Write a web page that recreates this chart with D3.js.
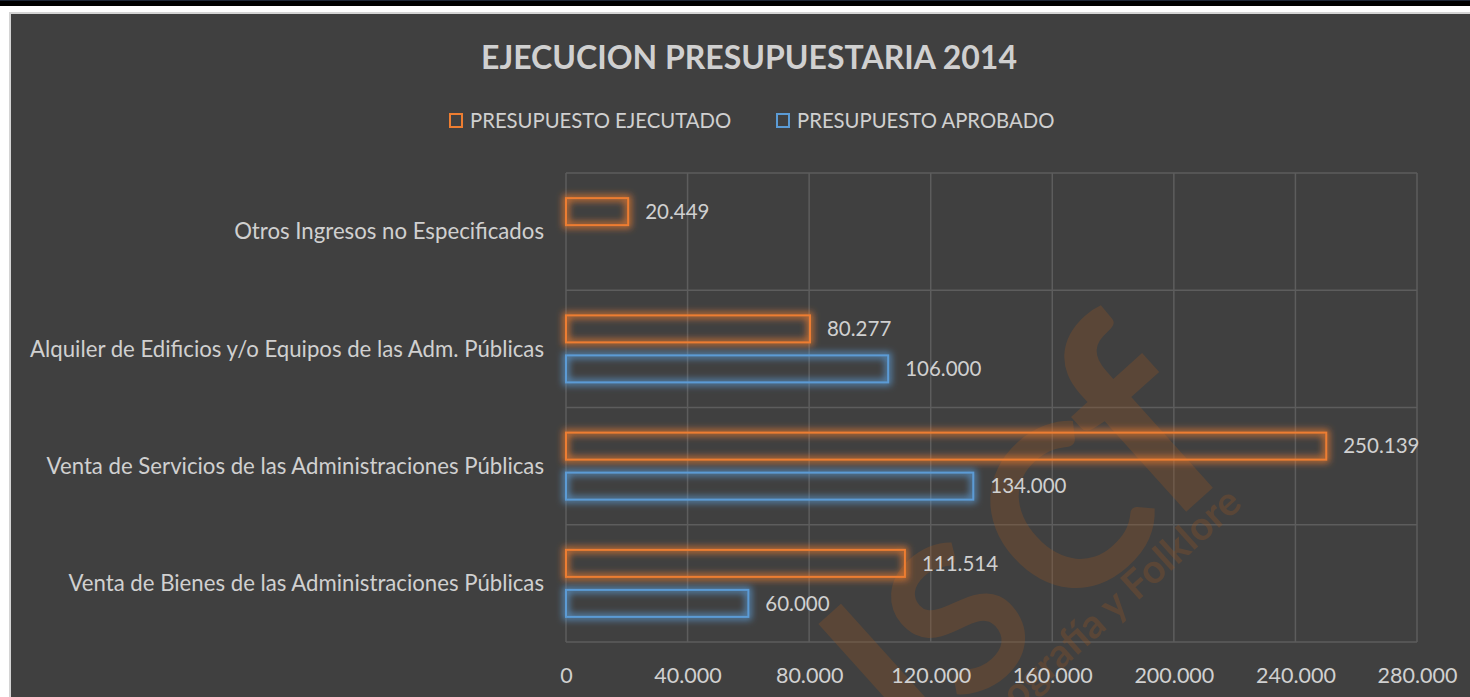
<!DOCTYPE html>
<html>
<head>
<meta charset="utf-8">
<script src="https://cdn.jsdelivr.net/npm/d3@7"></script>
<style>
  html, body { margin: 0; padding: 0; background: #ffffff; overflow: hidden; }
  svg { display: block; }
  text { font-family: Lato, "Open Sans", sans-serif; }
</style>
</head>
<body>
<div id="chart"></div>
<script>
// datos
const categorias = [
  "Otros Ingresos no Especificados",
  "Alquiler de Edificios y/o Equipos de las Adm. Públicas",
  "Venta de Servicios de las Administraciones Públicas",
  "Venta de Bienes de las Administraciones Públicas"
];
const series = ["PRESUPUESTO EJECUTADO", "PRESUPUESTO APROBADO"];
const ejecutado = [20449, 80277, 250139, 111514];
const aprobado = [null, 106000, 134000, 60000];
const ticksX = [0, 40000, 80000, 120000, 160000, 200000, 240000, 280000];

const colores = { "PRESUPUESTO EJECUTADO": "#ed7d31", "PRESUPUESTO APROBADO": "#5b9bd5" };
const textColor = "#d0d0d0";

const width = 1470, height = 697;
const plot = { left: 566, right: 1417, top: 173, bottom: 642 };

const loc = d3.formatLocale({ decimal: ",", thousands: ".", grouping: [3], currency: ["", ""] });
const fmt = loc.format(",d");

const svg = d3.select("#chart").append("svg")
  .attr("width", width)
  .attr("height", height);

// glow
const defs = svg.append("defs");
series.forEach((s, i) => {
  const f = defs.append("filter").attr("id", "glow" + i)
    .attr("x", "-20%").attr("y", "-80%").attr("width", "140%").attr("height", "260%");
  f.append("feMorphology").attr("in", "SourceGraphic").attr("operator", "dilate")
    .attr("radius", 1.5).attr("result", "d");
  f.append("feGaussianBlur").attr("in", "d").attr("stdDeviation", 3.5).attr("result", "b");
  f.append("feComponentTransfer").attr("in", "b").attr("result", "b2")
    .append("feFuncA").attr("type", "linear").attr("slope", 0.8);
  const m = f.append("feMerge");
  m.append("feMergeNode").attr("in", "b2");
  m.append("feMergeNode").attr("in", "SourceGraphic");
});

// marco
svg.append("rect").attr("width", width).attr("height", height).attr("fill", "#ffffff");
svg.append("rect").attr("width", width).attr("height", 6).attr("fill", "#000000");
svg.append("rect").attr("width", width).attr("height", 1).attr("fill", "#1e2636");
svg.append("rect").attr("x", 9).attr("y", 12).attr("width", width).attr("height", height)
  .attr("fill", "#d4d4d4");
svg.append("rect").attr("x", 11).attr("y", 14).attr("width", width).attr("height", height)
  .attr("fill", "#404040");

// escalas
const x = d3.scaleLinear().domain([0, 280000]).range([plot.left, plot.right]);
const y = d3.scaleBand().domain(categorias).range([plot.top, plot.bottom]);
const ySub = d3.scaleBand().domain(series).range([0, y.bandwidth()])
  .paddingInner(0.325).paddingOuter(0.628);

// grid
const grid = svg.append("g");
grid.selectAll("line.v").data(ticksX).join("line")
  .attr("x1", d => x(d)).attr("x2", d => x(d))
  .attr("y1", plot.top).attr("y2", plot.bottom)
  .attr("stroke", "#5d5d5d").attr("stroke-width", 1.5);
grid.selectAll("line.h").data([...categorias.map(c => y(c)), plot.bottom]).join("line")
  .attr("x1", plot.left).attr("x2", plot.right)
  .attr("y1", d => d).attr("y2", d => d)
  .attr("stroke", "#5d5d5d").attr("stroke-width", 1.5);

// marca de agua (logo)
const wm = svg.append("g")
  .attr("transform", "translate(1117,574) rotate(-42)")
  .attr("fill", "rgb(150,85,35)").attr("opacity", 0.3);
const letras = [["I", -240, 225], ["S", -148, 205], ["C", 0, 225], ["f", 117, 290]];
wm.selectAll("text.l").data(letras).join("text")
  .attr("x", d => d[1]).attr("y", 0)
  .attr("text-anchor", "middle")
  .attr("font-family", "'DejaVu Sans', sans-serif")
  .attr("font-weight", "bold")
  .attr("font-size", d => d[2])
  .text(d => d[0]);
wm.append("text")
  .attr("x", 140).attr("y", 34)
  .attr("text-anchor", "end")
  .attr("font-family", "'Liberation Sans Narrow', sans-serif")
  .attr("font-weight", "bold")
  .attr("font-size", 40)
  .text("Etnografía y Folklore");

// eje x
const xAxis = svg.append("g")
  .attr("transform", `translate(0,${plot.bottom})`)
  .call(d3.axisBottom(x).tickValues(ticksX).tickSize(0).tickPadding(26).tickFormat(fmt));
xAxis.select(".domain").remove();
xAxis.selectAll("text").attr("fill", textColor).attr("font-size", 21.5)
  .attr("font-family", "Lato, sans-serif");

// etiquetas de categoria
svg.append("g").selectAll("text").data(categorias).join("text")
  .attr("x", plot.left - 22)
  .attr("y", d => y(d) + y.bandwidth() / 2)
  .attr("dy", "0.35em")
  .attr("text-anchor", "end")
  .attr("font-size", 22.2)
  .attr("fill", textColor)
  .text(d => d);

// barras
const filas = [];
categorias.forEach((c, i) => {
  filas.push({ cat: c, serie: series[0], valor: ejecutado[i] });
  if (aprobado[i] != null) filas.push({ cat: c, serie: series[1], valor: aprobado[i] });
});

const barras = svg.append("g");
barras.selectAll("rect").data(filas).join("rect")
  .attr("x", x(0))
  .attr("y", d => y(d.cat) + ySub(d.serie))
  .attr("width", d => x(d.valor) - x(0))
  .attr("height", ySub.bandwidth())
  .attr("fill", "none")
  .attr("stroke", d => colores[d.serie])
  .attr("stroke-width", 2)
  .attr("filter", d => `url(#glow${series.indexOf(d.serie)})`);

barras.selectAll("text").data(filas).join("text")
  .attr("x", d => x(d.valor) + 17)
  .attr("y", d => y(d.cat) + ySub(d.serie) + ySub.bandwidth() / 2)
  .attr("dy", "0.35em")
  .attr("font-size", 20.5)
  .attr("fill", textColor)
  .text(d => fmt(d.valor));

// titulo
svg.append("text")
  .attr("x", 749).attr("y", 69)
  .attr("text-anchor", "middle")
  .attr("font-size", 32)
  .attr("font-weight", "bold")
  .attr("fill", textColor)
  .text("EJECUCION PRESUPUESTARIA 2014");

// leyenda
const leyendaX = [450, 777];
const ley = svg.append("g").selectAll("g").data(series).join("g")
  .attr("transform", (d, i) => `translate(${leyendaX[i]},114)`);
ley.append("rect")
  .attr("width", 12).attr("height", 13)
  .attr("fill", "none")
  .attr("stroke", d => colores[d]).attr("stroke-width", 2);
ley.append("text")
  .attr("x", 20).attr("y", 7).attr("dy", "0.35em")
  .attr("font-size", 20.3)
  .attr("fill", textColor)
  .text(d => d);
</script>
</body>
</html>
